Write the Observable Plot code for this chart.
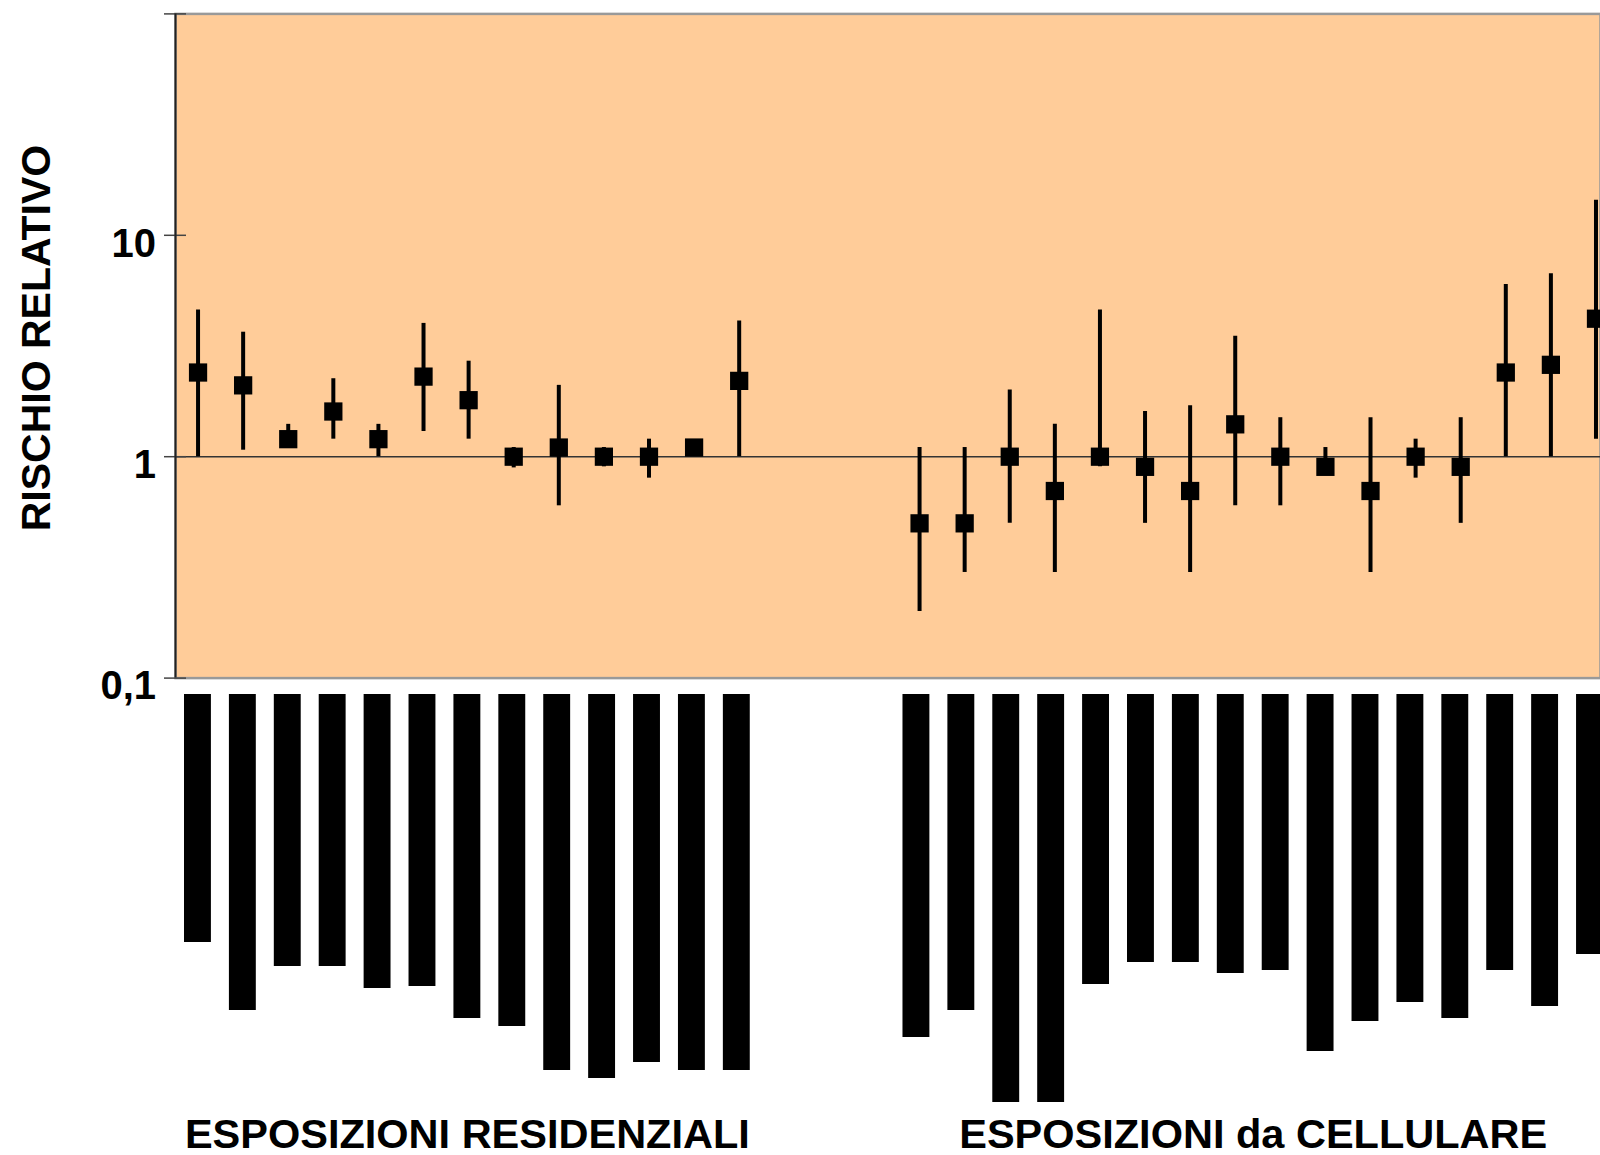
<!DOCTYPE html>
<html>
<head>
<meta charset="utf-8">
<script src="https://cdn.jsdelivr.net/npm/d3@7"></script>
<script src="https://cdn.jsdelivr.net/npm/@observablehq/plot@0.6"></script>
<style>
  html, body { margin: 0; padding: 0; background: #fff; overflow: hidden; }
  #wrap { position: relative; width: 1600px; height: 1155px; overflow: hidden; }
  #wrap svg { position: absolute; left: 0; }
</style>
</head>
<body>
<div id="wrap"></div>
<script>
// ---- data ----
const groupLabels = ["ESPOSIZIONI RESIDENZIALI", "ESPOSIZIONI da CELLULARE"];
const groupStart = [0, 16];

const residentialRR   = [2.4, 2.1, 1.2, 1.6, 1.2, 2.3, 1.8, 1.0, 1.1, 1.0, 1.0, 1.1, 2.2];
const residentialLow  = [1.0, 1.07, 1.1, 1.2, 1.0, 1.3, 1.2, 0.89, 0.6, 0.9, 0.8, 1.05, 1.0];
const residentialHigh = [4.6, 3.65, 1.4, 2.25, 1.4, 4.0, 2.7, 1.1, 2.1, 1.1, 1.2, 1.15, 4.1];
const residentialWeight = [248, 316, 272, 272, 294, 292, 324, 332, 376, 384, 368, 376, 376];

const cellularRR   = [0.5, 0.5, 1.0, 0.7, 1.0, 0.9, 0.7, 1.4, 1.0, 0.9, 0.7, 1.0, 0.9, 2.4, 2.6, 4.2];
const cellularLow  = [0.2, 0.3, 0.5, 0.3, 0.9, 0.5, 0.3, 0.6, 0.6, 0.85, 0.3, 0.8, 0.5, 1.0, 1.0, 1.2];
const cellularHigh = [1.1, 1.1, 2.0, 1.4, 4.6, 1.6, 1.7, 3.5, 1.5, 1.1, 1.5, 1.2, 1.5, 6.0, 6.7, 14.4];
const cellularWeight = [343, 316, 408, 408, 290, 268, 268, 279, 276, 357, 327, 308, 324, 276, 312, 260];

const yTicks = [0.1, 1, 10, 100];
const yTickLabels = ["0,1", "1", "10", ""];
const yLabel = "RISCHIO RELATIVO";

// ---- build tables ----
const rows = [];
residentialRR.forEach((v, k) => rows.push({i: groupStart[0] + k, rr: v, lo: residentialLow[k], hi: residentialHigh[k], w: residentialWeight[k]}));
cellularRR.forEach((v, k) => rows.push({i: groupStart[1] + k, rr: v, lo: cellularLow[k], hi: cellularHigh[k], w: cellularWeight[k]}));
const groups = groupLabels.map((label, g) => {
  const n = g === 0 ? residentialRR.length : cellularRR.length;
  return {label, cx: groupStart[g] + (n - 1) / 2};
});

const FONT = "'Liberation Sans', Arial, Helvetica, sans-serif";
const xDomain = [-0.5, 31.1];
const tickLabels = yTicks.map((t, k) => ({t, s: yTickLabels[k]}));

const riskPlot = Plot.plot({
  width: 1600, height: 720,
  marginTop: 13.4, marginBottom: 42.4, marginLeft: 175, marginRight: 0,
  style: {background: "transparent", fontFamily: FONT, overflow: "visible"},
  x: {domain: xDomain, axis: null},
  y: {type: "log", domain: [0.1, 100]},
  marks: [
    Plot.frame({fill: "#FFCC99"}),
    Plot.frame({stroke: "#999", strokeWidth: 2.5}),
    Plot.ruleY([1], {stroke: "#333", strokeWidth: 1.5}),
    Plot.axisY({ticks: yTicks, tickSize: 22, dx: 11, fill: "none", label: null, stroke: "#444", strokeWidth: 1.5}),
    Plot.ruleX([xDomain[0]], {stroke: "#222", strokeWidth: 2}),
    Plot.text(tickLabels, {y: "t", text: "s", frameAnchor: "left", textAnchor: "end", dx: -19.5, dy: 8.5,
      fontSize: 40, fontWeight: "bold", fontFamily: FONT, fill: "black"}),
    Plot.text([yLabel], {frameAnchor: "left", textAnchor: "middle", dx: -139, dy: -8, rotate: -90, fontSize: 41,
      fontWeight: "bold", fontFamily: FONT, fill: "black"}),
    Plot.ruleX(rows, {x: "i", y1: "lo", y2: "hi", stroke: "black", strokeWidth: 4}),
    Plot.dot(rows, {x: "i", y: "rr", symbol: "square", r: 10.3, fill: "black", stroke: "none"})
  ]
});
riskPlot.style.top = "0px";

const weightPlot = Plot.plot({
  width: 1600, height: 461,
  marginTop: 0, marginBottom: 41, marginLeft: 175, marginRight: 6,
  style: {background: "transparent", fontFamily: FONT, overflow: "visible"},
  x: {domain: xDomain, axis: null},
  y: {domain: [0, 420], range: [0, 420], axis: null},
  marks: [
    Plot.rectY(rows, {x1: d => d.i - 0.5, x2: d => d.i + 0.5, y1: 0, y2: "w", insetLeft: 9, insetRight: 9, fill: "black"}),
    Plot.text(groups, {x: "cx", text: "label", frameAnchor: "bottom", dy: 33, fontSize: 41.5,
      fontWeight: "bold", fontFamily: FONT, fill: "black"})
  ]
});
weightPlot.style.top = "694px";

const wrap = document.getElementById("wrap");
wrap.appendChild(riskPlot);
wrap.appendChild(weightPlot);
</script>
</body>
</html>
